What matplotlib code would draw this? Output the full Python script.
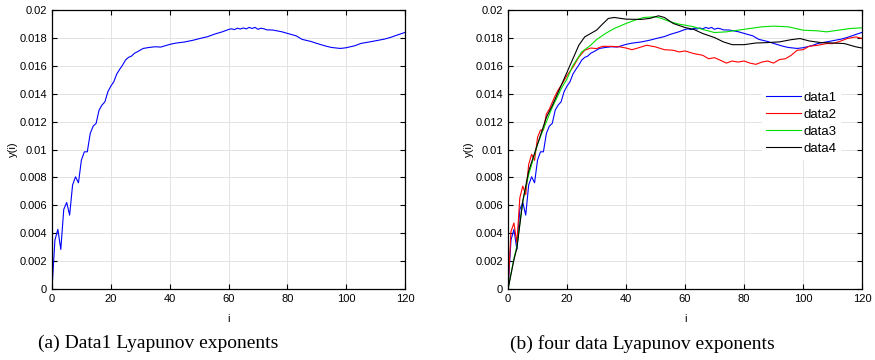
import matplotlib
matplotlib.use("Agg")
import matplotlib.pyplot as plt

# data1 (blue) - shared by both panels
i1 = [0, 1, 2, 3, 4, 5, 6, 7, 8, 9, 10, 11, 12, 13, 14, 15, 16, 17, 18, 19,
      20, 21, 22, 23, 24, 25, 26, 27, 28, 29, 30, 31, 33, 35, 37, 40, 42, 45,
      48, 50, 53, 55, 58, 60, 61, 62, 63, 64, 65, 66, 67, 68, 69, 70, 71, 72,
      73, 75, 78, 80, 83, 85, 88, 90, 93, 95, 98, 100, 103, 105, 108, 110,
      113, 115, 118, 120]
y1 = [0.0, 0.00351, 0.00428, 0.00284, 0.00571, 0.00621, 0.00530, 0.00746,
      0.00805, 0.00762, 0.00925, 0.00984, 0.00984, 0.01116, 0.01168, 0.01188,
      0.01283, 0.01319, 0.01343, 0.01415, 0.01455, 0.01486, 0.01541, 0.01575,
      0.01606, 0.01642, 0.01661, 0.01670, 0.01690, 0.01701, 0.01713, 0.01725,
      0.01732, 0.01737, 0.01735, 0.01754, 0.01763, 0.01771, 0.01784, 0.01795,
      0.01810, 0.01826, 0.01845, 0.01861, 0.01866, 0.01860, 0.01870, 0.01864,
      0.01872, 0.01865, 0.01876, 0.01868, 0.01876, 0.01862, 0.01870, 0.01866,
      0.01858, 0.01857, 0.01845, 0.01833, 0.01815, 0.01790, 0.01775, 0.01761,
      0.01742, 0.01732, 0.01725, 0.01730, 0.01745, 0.01761, 0.01772, 0.01780,
      0.01792, 0.01804, 0.01826, 0.01840]

# data2 (red)
i2 = [0, 1, 2, 3, 4, 5, 6, 7, 8, 9, 10, 11, 12, 13, 14, 15, 16, 17, 18, 19,
      20, 22, 24, 26, 28, 30, 32, 35, 38, 40, 42, 44, 47, 50, 53, 56, 58, 60,
      63, 66, 68, 70, 72, 74, 76, 78, 80, 82, 84, 86, 88, 90, 92, 94, 96, 98,
      100, 102, 105, 108, 110, 112, 115, 118, 120]
y2 = [0.0, 0.00413, 0.00474, 0.00330, 0.00654, 0.00738, 0.00678, 0.00894,
      0.00966, 0.00923, 0.01087, 0.01140, 0.01140, 0.01255, 0.01290, 0.01339,
      0.01387, 0.01428, 0.01459, 0.01495, 0.01531, 0.01591, 0.01663, 0.01712,
      0.01728, 0.01724, 0.01740, 0.01740, 0.01736, 0.01728, 0.01716, 0.01728,
      0.01748, 0.01736, 0.01716, 0.01712, 0.01700, 0.01707, 0.01688, 0.01676,
      0.01651, 0.01659, 0.01640, 0.01620, 0.01635, 0.01627, 0.01635, 0.01620,
      0.01611, 0.01627, 0.01635, 0.01620, 0.01645, 0.01651, 0.01676, 0.01712,
      0.01716, 0.01740, 0.01748, 0.01760, 0.01760, 0.01772, 0.01796, 0.01808,
      0.01796]

# data3 (green)
i3 = [0, 2, 3, 5, 7, 10, 12, 15, 18, 20, 22, 25, 28, 30, 33, 36, 40, 43, 46,
      50, 52, 55, 58, 60, 63, 66, 70, 74, 78, 82, 86, 90, 95, 100, 105, 108,
      112, 116, 120]
y3 = [0.0, 0.00220, 0.00305, 0.00630, 0.00820, 0.01038, 0.01147, 0.01303,
      0.01435, 0.01507, 0.01603, 0.01700, 0.01748, 0.01788, 0.01832, 0.01868,
      0.01904, 0.01928, 0.01947, 0.01952, 0.01940, 0.01916, 0.01899, 0.01892,
      0.01880, 0.01861, 0.01839, 0.01844, 0.01856, 0.01868, 0.01880, 0.01885,
      0.01880, 0.01856, 0.01851, 0.01844, 0.01856, 0.01868, 0.01873]

# data4 (black)
i4 = [0, 2, 3, 5, 7, 10, 13, 15, 18, 20, 22, 24, 26, 28, 30, 32, 34, 36, 40,
      45, 48, 51, 53, 56, 60, 63, 66, 70, 73, 76, 80, 84, 88, 92, 96, 99, 102,
      106, 110, 114, 118, 120]
y4 = [0.0, 0.00210, 0.00293, 0.00630, 0.00846, 0.01038, 0.01231, 0.01315,
      0.01459, 0.01555, 0.01651, 0.01748, 0.01808, 0.01832, 0.01856, 0.01899,
      0.01940, 0.01947, 0.01935, 0.01933, 0.01940, 0.01959, 0.01947, 0.01904,
      0.01875, 0.01861, 0.01832, 0.01803, 0.01772, 0.01752, 0.01752, 0.01764,
      0.01767, 0.01772, 0.01788, 0.01796, 0.01779, 0.01767, 0.01764, 0.01760,
      0.01736, 0.01728]

xticks = [0, 20, 40, 60, 80, 100, 120]
yticks = [0, 0.002, 0.004, 0.006, 0.008, 0.01, 0.012, 0.014, 0.016, 0.018, 0.02]
ytick_labels = ["0", "0.002", "0.004", "0.006", "0.008", "0.01", "0.012",
                "0.014", "0.016", "0.018", "0.02"]
captions = ["(a) Data1 Lyapunov exponents", "(b) four data Lyapunov exponents"]

plt.rcParams['font.family'] = ['Liberation Sans', 'DejaVu Sans']

fig = plt.figure(figsize=(8.75, 3.6), dpi=100)
ax_a = fig.add_axes([0.0594, 0.197, 0.4036, 0.775])
ax_b = fig.add_axes([0.5806, 0.197, 0.4046, 0.775])


def style_axes(ax):
    ax.set_xlim(0, 120)
    ax.set_ylim(0, 0.02)
    ax.set_xticks(xticks)
    ax.set_yticks(yticks)
    ax.set_yticklabels(ytick_labels)
    ax.grid(True, color='#e3e3e3', linewidth=0.7)
    ax.set_axisbelow(True)
    ax.tick_params(direction='in', top=True, right=True, length=3.5,
                   width=0.8, labelsize=8, pad=3.5, colors='black')
    for sp in ax.spines.values():
        sp.set_linewidth(0.9)
    ax.set_xlabel("i", fontsize=8, labelpad=7)
    ax.set_ylabel("y(i)", fontsize=8, labelpad=1)


ax_a.plot(i1, y1, color='#0000ff', linewidth=0.8)
style_axes(ax_a)

ax_b.plot(i1, y1, color='#0000ff', linewidth=0.8, label='data1')
ax_b.plot(i2, y2, color='#ff0000', linewidth=0.8, label='data2')
ax_b.plot(i3, y3, color='#00e000', linewidth=0.8, label='data3')
ax_b.plot(i4, y4, color='#000000', linewidth=0.8, label='data4')
style_axes(ax_b)
leg = ax_b.legend(loc='upper left', bbox_to_anchor=(0.70, 0.745),
                  fontsize=9.5, frameon=True, fancybox=False,
                  handlelength=2.6, handletextpad=0.2, labelspacing=0.35,
                  borderpad=0.3)
leg.get_frame().set_edgecolor('white')
leg.get_frame().set_facecolor('white')
leg.get_frame().set_alpha(1.0)

fig.text(0.181, 0.045, captions[0], ha='center', va='center', fontsize=14,
         family=['Liberation Serif', 'DejaVu Serif'])
fig.text(0.734, 0.045, captions[1], ha='center', va='center', fontsize=14,
         family=['Liberation Serif', 'DejaVu Serif'])

fig.savefig("out.png", dpi=100)
